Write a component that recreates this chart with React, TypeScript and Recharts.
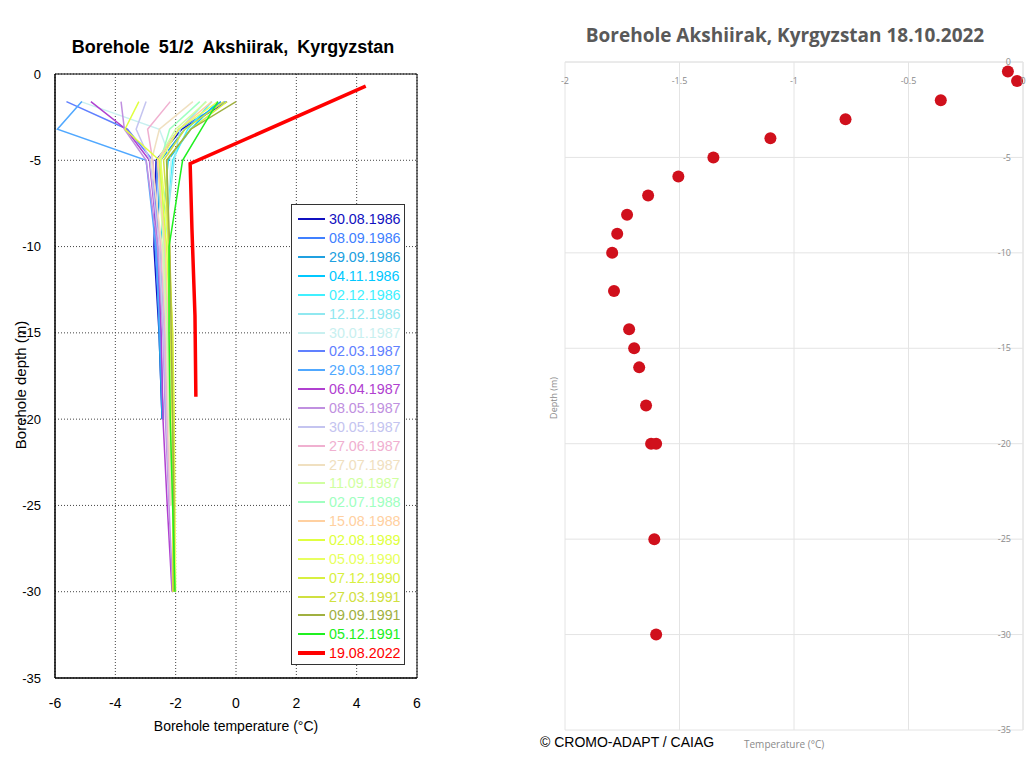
import React from 'react';
import {
  LineChart,
  Line,
  ScatterChart,
  Scatter,
  XAxis,
  YAxis,
  CartesianGrid,
  ReferenceArea,
} from 'recharts';

// depth levels of the 1986-1991 profiles (m, negative = below surface)
const profileDepths = [-1.6, -3.2, -5, -10, -15, -20, -25, -30];

// temperatures (°C) per profile, one per depth level
const t19860830 = [-0.3, -1.8, -2.65, -2.72, -2.55, -2.45];
const t19860908 = [-0.35, -1.9, -2.6, -2.68, -2.52, -2.42];
const t19860929 = [-0.5, -1.7, -2.5, -2.62, -2.55, -2.45];
const t19861104 = [-0.6, -1.5, -2.25, -2.5, -2.4, -2.32];
const t19861202 = [-0.8, -1.6, -2.1, -2.42, -2.35, -2.28];
const t19861212 = [-1.0, -1.85, -2.05, -2.38, -2.32, -2.26];
const t19870130 = [-5.14, -2.54, -2.15, -2.4, -2.33, -2.27];
const t19870302 = [-5.62, -3.6, -2.76, -2.62, -2.5, -2.42];
const t19870329 = [-5.11, -5.92, -2.98, -2.66, -2.52, -2.42];
const t19870406 = [-4.81, -3.65, -2.87, -2.58, -2.48, -2.42, -2.28, -2.12];
const t19870508 = [-3.81, -3.7, -2.98, -2.6, -2.42, -2.34, -2.22, -2.1];
const t19870530 = [-2.98, -3.31, -2.85, -2.55, -2.4, -2.3, -2.2];
const t19870627 = [-2.18, -2.93, -2.76, -2.5, -2.36, -2.28, -2.18];
const t19870727 = [-1.43, -2.54, -2.8, -2.45, -2.3, -2.24, -2.15];
const t19870911 = [-0.98, -2.0, -2.6, -2.4, -2.28, -2.2, -2.1, -2.05];
const t19880702 = [-1.2, -2.2, -2.5, -2.36, -2.25, -2.18, -2.1];
const t19880815 = [-0.8, -1.9, -2.6, -2.35, -2.24, -2.18, -2.1];
const t19890802 = [-3.22, -3.68, -2.54, -2.3, -2.18, -2.12, -2.1, -2.08];
const t19900905 = [-0.6, -1.9, -2.5, -2.22, -2.1, -2.05, -2.02, -2.0];
const t19901207 = [-0.3, -1.5, -2.3, -2.25, -2.1, -2.05, -2.05, -2.05];
const t19910327 = [-0.4, -1.7, -2.4, -2.2, -2.12, -2.1, -2.08, -2.1];
const t19910909 = [0.0, -1.5, -2.3, -2.2, -2.15, -2.1, -2.06, -2.05];
const t19911205 = [-0.6, -1.15, -1.77, -2.22, -2.22, -2.18, -2.1, -2.02];

// 2022 profile has its own depths
const depths2022 = [-0.7, -5.2, -9, -14, -18.7];
const temps2022 = [4.3, -1.52, -1.46, -1.36, -1.33];

// right panel: 18.10.2022 measurements
const depthsOct = [-0.5, -1, -2, -3, -4, -5, -6, -7, -8, -9, -10, -12, -14, -15, -16, -18, -20, -20, -25, -30];
const tempsOct = [-0.066, -0.026, -0.359, -0.775, -1.103, -1.352, -1.505, -1.637, -1.729, -1.772, -1.794, -1.786, -1.72, -1.698, -1.676, -1.646, -1.624, -1.602, -1.61, -1.602];

const leftXTicks = [-6, -4, -2, 0, 2, 4, 6];
const leftYTicks = [-35, -30, -25, -20, -15, -10, -5, 0];
const rightXTicks = [-2, -1.5, -1, -0.5, 0];
const rightYTicks = [-35, -30, -25, -20, -15, -10, -5, 0];

const toPoints = (temps: number[], depths: number[]) =>
  temps.map((t, i) => ({ t, d: depths[i] }));

const series = [
  { name: '30.08.1986', color: '#1010c0', temps: t19860830 },
  { name: '08.09.1986', color: '#4080ff', temps: t19860908 },
  { name: '29.09.1986', color: '#20a0e0', temps: t19860929 },
  { name: '04.11.1986', color: '#00c8ff', temps: t19861104 },
  { name: '02.12.1986', color: '#40f0ff', temps: t19861202 },
  { name: '12.12.1986', color: '#90e8f0', temps: t19861212 },
  { name: '30.01.1987', color: '#c8f0f0', temps: t19870130 },
  { name: '02.03.1987', color: '#6080ff', temps: t19870302 },
  { name: '29.03.1987', color: '#50a8ff', temps: t19870329 },
  { name: '06.04.1987', color: '#b040d0', temps: t19870406 },
  { name: '08.05.1987', color: '#c090e0', temps: t19870508 },
  { name: '30.05.1987', color: '#c4c4f0', temps: t19870530 },
  { name: '27.06.1987', color: '#f0b0d0', temps: t19870627 },
  { name: '27.07.1987', color: '#f0e0c0', temps: t19870727 },
  { name: '11.09.1987', color: '#d0ffa0', temps: t19870911 },
  { name: '02.07.1988', color: '#a0ffc0', temps: t19880702 },
  { name: '15.08.1988', color: '#ffd0a0', temps: t19880815 },
  { name: '02.08.1989', color: '#e0ff40', temps: t19890802 },
  { name: '05.09.1990', color: '#e8ff60', temps: t19900905 },
  { name: '07.12.1990', color: '#d8f040', temps: t19901207 },
  { name: '27.03.1991', color: '#d0e040', temps: t19910327 },
  { name: '09.09.1991', color: '#a0b040', temps: t19910909 },
  { name: '05.12.1991', color: '#20f020', temps: t19911205 },
].map((s) => ({ ...s, data: toPoints(s.temps, profileDepths), width: 1.5 }));

const allSeries = [
  ...series,
  { name: '19.08.2022', color: '#ff0000', temps: temps2022, data: toPoints(temps2022, depths2022), width: 3.5 },
];

const octData = toPoints(tempsOct, depthsOct);

const arial = '"Liberation Sans", Arial, sans-serif';
const calibri = '"Open Sans", "Noto Sans", sans-serif';

const Dot = (props: any) => <circle cx={props.cx} cy={props.cy} r={6} fill="#d0101c" />;

export default function App() {
  return (
    <div style={{ position: 'absolute', left: 0, top: 0, width: 1032, height: 759, background: '#fff', fontFamily: arial }}>
      {/* left panel */}
      <div style={{ position: 'absolute', left: 0, top: 37, width: 466, textAlign: 'center', fontSize: 18, fontWeight: 'bold', wordSpacing: 4 }}>
        Borehole 51/2 Akshiirak, Kyrgyzstan
      </div>
      <LineChart
        width={440}
        height={740}
        margin={{ top: 74, right: 23, bottom: 32, left: 0 }}
        style={{ position: 'absolute', left: 0, top: 0 }}
      >
        <CartesianGrid strokeDasharray="1 2" stroke="#444" />
        <XAxis
          type="number"
          dataKey="t"
          domain={[-6, 6]}
          ticks={leftXTicks}
          allowDataOverflow
          height={30}
          tick={{ fontSize: 14, fill: '#000', fontFamily: arial }}
          tickLine={false}
          tickMargin={14}
          axisLine={{ stroke: '#000' }}
        />
        <YAxis
          type="number"
          domain={[-35, 0]}
          ticks={leftYTicks}
          allowDataOverflow
          width={55}
          tick={{ fontSize: 13, fill: '#000', fontFamily: arial }}
          tickLine={false}
          tickMargin={8}
          axisLine={{ stroke: '#000' }}
        />
        <ReferenceArea x1={-6} x2={6} y1={-35} y2={0} fill="none" fillOpacity={0} stroke="#000" strokeWidth={1} />
        {allSeries.map((s) => (
          <Line
            key={s.name}
            data={s.data}
            dataKey="d"
            stroke={s.color}
            strokeWidth={s.width}
            dot={false}
            activeDot={false}
            isAnimationActive={false}
          />
        ))}
      </LineChart>
      <div style={{ position: 'absolute', left: 0, top: 718, width: 472, textAlign: 'center', fontSize: 14 }}>
        Borehole temperature (°C)
      </div>
      <div
        style={{
          position: 'absolute',
          left: 20,
          top: 385,
          fontSize: 15,
          whiteSpace: 'nowrap',
          transform: 'translate(-50%, -50%) rotate(-90deg)',
        }}
      >
        Borehole depth (m)
      </div>
      <div
        style={{
          position: 'absolute',
          left: 291,
          top: 204,
          width: 114,
          height: 461,
          border: '1px solid #333',
          background: '#fff',
          paddingTop: 5,
          boxSizing: 'border-box',
        }}
      >
        {allSeries.map((s) => (
          <div key={s.name} style={{ display: 'flex', alignItems: 'center', height: 18.87 }}>
            <div style={{ marginLeft: 6, width: 27, height: s.width > 2 ? 4 : 2, background: s.color }} />
            <div style={{ marginLeft: 4, fontSize: 14.3, color: s.color, lineHeight: '16px' }}>{s.name}</div>
          </div>
        ))}
      </div>

      {/* right panel */}
      <div style={{ position: 'absolute', left: 530, top: 22, width: 510, textAlign: 'center', fontSize: 19, fontWeight: 'bold', color: '#595959', fontFamily: calibri }}>
        Borehole Akshiirak, Kyrgyzstan 18.10.2022
      </div>
      <ScatterChart
        width={502}
        height={759}
        margin={{ top: 62, right: 9, bottom: 29, left: 35 }}
        style={{ position: 'absolute', left: 530, top: 0 }}
      >
        <CartesianGrid stroke="#e4e4e4" />
        <XAxis
          type="number"
          dataKey="t"
          orientation="top"
          mirror
          domain={[-2, 0]}
          ticks={rightXTicks}
          height={1}
          tick={{ fontSize: 9, fill: '#8a8a8a', fontFamily: calibri }}
          tickLine={false}
          tickMargin={10}
          axisLine={{ stroke: '#e4e4e4' }}
        />
        <YAxis
          type="number"
          dataKey="d"
          orientation="right"
          mirror
          domain={[-35, 0]}
          ticks={rightYTicks}
          width={1}
          tick={{ fontSize: 9, fill: '#8a8a8a', fontFamily: calibri }}
          tickLine={false}
          tickMargin={6}
          axisLine={{ stroke: '#e4e4e4' }}
        />
        <Scatter data={octData} shape={Dot} isAnimationActive={false} />
      </ScatterChart>
      <div
        style={{
          position: 'absolute',
          left: 553,
          top: 398,
          fontSize: 9,
          color: '#8a8a8a',
          fontFamily: calibri,
          whiteSpace: 'nowrap',
          transform: 'translate(-50%, -50%) rotate(-90deg)',
        }}
      >
        Depth (m)
      </div>
      <div style={{ position: 'absolute', left: 744, top: 737, fontSize: 10, color: '#8a8a8a', fontFamily: calibri }}>
        Temperature (°C)
      </div>
      <div style={{ position: 'absolute', left: 540, top: 734, fontSize: 14, color: '#000' }}>
        © CROMO-ADAPT / CAIAG
      </div>
    </div>
  );
}
